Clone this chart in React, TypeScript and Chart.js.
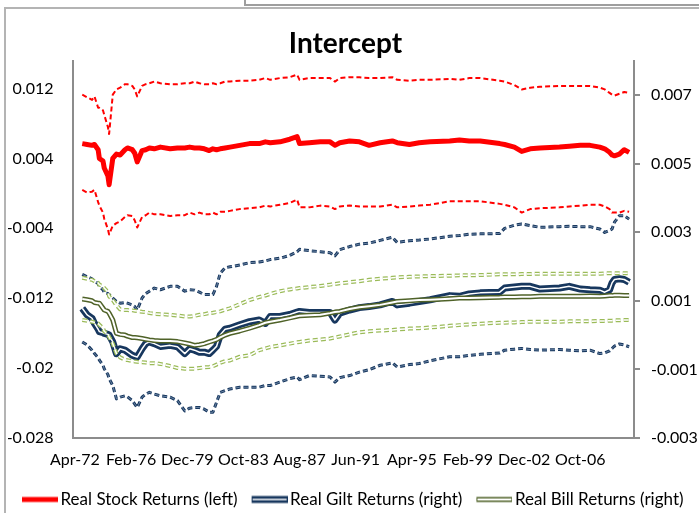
import React, { useEffect, useRef } from "react";
import { Chart, registerables } from "chart.js";

Chart.register(...registerables);

// month offsets from Apr-72
const months = [6,10,14,16,19,20,23,24,27,28,31,34,37,41,43,47,49,51,55,58,61,65,70,78,84,90,94,98,102,106,110,113,116,119,123,127,135,143,151,156,160,168,176,182,184,192,201,209,213,217,225,233,241,250,260,264,274,282,291,307,315,323,332,348,352,360,366,373,381,397,405,414,422,430,434,438,440,442,446,450,454];

const xTickMonths = [0, 46, 92, 138, 184, 230, 276, 322, 368, 414];
const xTickLabels = ["Apr-72", "Feb-76", "Dec-79", "Oct-83", "Aug-87", "Jun-91", "Apr-95", "Feb-99", "Dec-02", "Oct-06"];
const leftTicks = [-0.028, -0.02, -0.012, -0.004, 0.004, 0.012];
const leftTickLabels = ["-0.028", "-0.02", "-0.012", "-0.004", "0.004", "0.012"];
const rightTicks = [-0.003, -0.001, 0.001, 0.003, 0.005, 0.007];
const rightTickLabels = ["-0.003", "-0.001", "0.001", "0.003", "0.005", "0.007"];

const stockMean = [0.0057,0.0056,0.0055,0.0056,0.0050,0.0040,0.0037,0.0029,0.0020,0.0010,
0.0040,0.0045,0.0044,0.0050,0.0052,0.0050,0.0046,0.0036,0.0049,0.0050,
0.0052,0.0051,0.0053,0.0051,0.0052,0.0052,0.0053,0.0052,0.0052,0.0051,
0.0049,0.0051,0.0050,0.0051,0.0052,0.0053,0.0055,0.0057,0.0057,0.0059,
0.0058,0.0059,0.0062,0.0065,0.0057,0.0058,0.0059,0.0059,0.0055,0.0058,
0.0060,0.0059,0.0055,0.0058,0.0060,0.0058,0.0056,0.0058,0.0059,0.0060,
0.0061,0.0060,0.0060,0.0057,0.0056,0.0053,0.0048,0.0051,0.0052,0.0053,
0.0054,0.0055,0.0055,0.0053,0.0051,0.0047,0.0044,0.0043,0.0045,0.0050,
0.0047];
const stockUpper = [0.0113,0.0110,0.0107,0.0111,0.0098,0.0098,0.0095,0.0090,0.0076,0.0068,
0.0113,0.0119,0.0121,0.0125,0.0125,0.0123,0.0119,0.0111,0.0123,0.0125,
0.0126,0.0128,0.0126,0.0125,0.0125,0.0126,0.0126,0.0128,0.0126,0.0125,
0.0125,0.0126,0.0125,0.0126,0.0128,0.0128,0.0129,0.0129,0.0130,0.0132,
0.0130,0.0132,0.0133,0.0136,0.0130,0.0132,0.0132,0.0132,0.0128,0.0132,
0.0133,0.0133,0.0132,0.0132,0.0133,0.0130,0.0129,0.0130,0.0130,0.0131,
0.0130,0.0132,0.0132,0.0129,0.0128,0.0124,0.0119,0.0121,0.0122,0.0123,
0.0123,0.0123,0.0123,0.0121,0.0119,0.0115,0.0113,0.0112,0.0114,0.0116,
0.0115];
const stockLower = [0.0004,0.0001,0.0002,0.0004,-0.0010,-0.0014,-0.0022,-0.0029,-0.0041,-0.0047,
-0.0037,-0.0034,-0.0032,-0.0027,-0.0025,-0.0026,-0.0031,-0.0039,-0.0027,-0.0025,
-0.0022,-0.0024,-0.0024,-0.0026,-0.0025,-0.0025,-0.0022,-0.0024,-0.0022,-0.0024,
-0.0024,-0.0022,-0.0024,-0.0021,-0.0021,-0.0020,-0.0018,-0.0017,-0.0016,-0.0014,
-0.0015,-0.0013,-0.0011,-0.0007,-0.0016,-0.0016,-0.0014,-0.0015,-0.0018,-0.0015,
-0.0014,-0.0015,-0.0015,-0.0015,-0.0013,-0.0016,-0.0015,-0.0014,-0.0013,-0.0009,
-0.0009,-0.0009,-0.0009,-0.0012,-0.0013,-0.0016,-0.0022,-0.0018,-0.0017,-0.0016,
-0.0015,-0.0014,-0.0013,-0.0013,-0.0015,-0.0018,-0.0022,-0.0022,-0.0022,-0.0020,
-0.0021];

const giltMean = [0.00078,0.00059,0.00049,0.00034,0.00017,0.00010,0.00007,0.00005,0.00002,0.00000,
-0.00020,-0.00054,-0.00040,-0.00044,-0.00049,-0.00059,-0.00062,-0.00064,-0.00040,-0.00025,
-0.00020,-0.00025,-0.00033,-0.00030,-0.00034,-0.00054,-0.00040,-0.00044,-0.00050,-0.00050,
-0.00054,-0.00044,-0.00033,0.00000,0.00017,0.00020,0.00030,0.00039,0.00044,0.00034,
0.00054,0.00054,0.00060,0.00067,0.00069,0.00066,0.00066,0.00066,0.00044,0.00064,
0.00073,0.00080,0.00083,0.00088,0.00098,0.00088,0.00093,0.00098,0.00103,0.00115,
0.00113,0.00120,0.00123,0.00125,0.00137,0.00140,0.00142,0.00142,0.00134,0.00137,
0.00142,0.00134,0.00132,0.00131,0.00125,0.00132,0.00152,0.00162,0.00164,0.00162,
0.00154];
const giltUpper = [0.00177,0.00170,0.00164,0.00157,0.00150,0.00142,0.00132,0.00123,0.00121,0.00118,
0.00108,0.00098,0.00093,0.00095,0.00093,0.00088,0.00083,0.00073,0.00108,0.00121,
0.00128,0.00137,0.00132,0.00142,0.00142,0.00128,0.00132,0.00131,0.00125,0.00118,
0.00118,0.00118,0.00142,0.00180,0.00196,0.00199,0.00204,0.00211,0.00213,0.00216,
0.00220,0.00224,0.00232,0.00243,0.00250,0.00246,0.00243,0.00240,0.00231,0.00249,
0.00258,0.00265,0.00268,0.00276,0.00285,0.00270,0.00275,0.00277,0.00280,0.00288,
0.00290,0.00294,0.00295,0.00296,0.00311,0.00320,0.00324,0.00319,0.00314,0.00316,
0.00317,0.00316,0.00316,0.00309,0.00299,0.00305,0.00309,0.00329,0.00348,0.00348,
0.00338];
const giltLower = [-0.00020,-0.00029,-0.00044,-0.00054,-0.00066,-0.00073,-0.00088,-0.00098,-0.00115,-0.00127,
-0.00147,-0.00186,-0.00181,-0.00177,-0.00180,-0.00191,-0.00201,-0.00211,-0.00181,-0.00172,
-0.00167,-0.00172,-0.00177,-0.00181,-0.00191,-0.00221,-0.00213,-0.00211,-0.00211,-0.00216,
-0.00225,-0.00225,-0.00196,-0.00167,-0.00162,-0.00157,-0.00152,-0.00152,-0.00152,-0.00147,
-0.00147,-0.00137,-0.00127,-0.00122,-0.00130,-0.00118,-0.00120,-0.00122,-0.00137,-0.00124,
-0.00118,-0.00108,-0.00101,-0.00088,-0.00081,-0.00093,-0.00086,-0.00083,-0.00075,-0.00063,
-0.00063,-0.00059,-0.00056,-0.00052,-0.00044,-0.00041,-0.00039,-0.00042,-0.00044,-0.00042,
-0.00044,-0.00046,-0.00044,-0.00054,-0.00052,-0.00046,-0.00039,-0.00032,-0.00026,-0.00029,
-0.00034];

const billMean = [0.00105,0.00103,0.00100,0.00095,0.00093,0.00093,0.00078,0.00073,0.00069,0.00064,
0.00044,0.00005,0.00002,0.00000,-0.00003,-0.00007,-0.00007,-0.00008,-0.00010,-0.00012,
-0.00014,-0.00016,-0.00017,-0.00017,-0.00019,-0.00023,-0.00026,-0.00030,-0.00028,-0.00025,
-0.00020,-0.00017,-0.00013,-0.00007,0.00000,0.00005,0.00012,0.00020,0.00029,0.00036,
0.00039,0.00044,0.00050,0.00055,0.00056,0.00058,0.00059,0.00064,0.00067,0.00069,
0.00076,0.00081,0.00084,0.00088,0.00095,0.00098,0.00100,0.00102,0.00103,0.00106,
0.00108,0.00108,0.00109,0.00110,0.00111,0.00111,0.00112,0.00112,0.00113,0.00113,
0.00113,0.00113,0.00114,0.00113,0.00114,0.00115,0.00115,0.00116,0.00116,0.00115,
0.00115];
const billUpper = [0.00167,0.00164,0.00161,0.00157,0.00152,0.00147,0.00142,0.00137,0.00126,0.00113,
0.00102,0.00087,0.00075,0.00073,0.00073,0.00072,0.00071,0.00070,0.00068,0.00067,
0.00064,0.00062,0.00061,0.00059,0.00057,0.00054,0.00054,0.00056,0.00059,0.00061,
0.00064,0.00065,0.00067,0.00069,0.00074,0.00078,0.00090,0.00102,0.00111,0.00115,
0.00120,0.00128,0.00133,0.00136,0.00137,0.00140,0.00143,0.00147,0.00149,0.00151,
0.00154,0.00157,0.00161,0.00164,0.00167,0.00168,0.00170,0.00171,0.00172,0.00173,
0.00174,0.00174,0.00175,0.00177,0.00177,0.00177,0.00178,0.00178,0.00179,0.00179,
0.00179,0.00179,0.00179,0.00179,0.00180,0.00180,0.00180,0.00180,0.00180,0.00180,
0.00180];
const billLower = [0.00044,0.00042,0.00039,0.00037,0.00034,0.00030,0.00020,0.00011,0.00002,-0.00005,
-0.00025,-0.00054,-0.00065,-0.00072,-0.00073,-0.00076,-0.00077,-0.00078,-0.00079,-0.00080,
-0.00082,-0.00082,-0.00084,-0.00090,-0.00096,-0.00098,-0.00098,-0.00098,-0.00096,-0.00094,
-0.00093,-0.00091,-0.00086,-0.00081,-0.00076,-0.00074,-0.00063,-0.00059,-0.00044,-0.00039,
-0.00035,-0.00030,-0.00025,-0.00021,-0.00020,-0.00016,-0.00013,-0.00010,-0.00007,-0.00004,
0.00002,0.00008,0.00011,0.00013,0.00015,0.00016,0.00019,0.00020,0.00022,0.00027,
0.00029,0.00031,0.00033,0.00036,0.00036,0.00037,0.00038,0.00039,0.00039,0.00039,
0.00040,0.00040,0.00040,0.00041,0.00041,0.00042,0.00042,0.00043,0.00043,0.00044,
0.00044];

const seriesNames = ["Real Stock Returns (left)", "Real Gilt Returns (right)", "Real Bill Returns (right)"];

const RED = "#FF0000";
const NAVY = "#17375E";
const OLIVE = "#4F6228";
const LIGHT_OLIVE = "#9BBB59";
const AXIS = "#8C8C8C";

function pts(values: number[]) {
  return months.map((m, i) => ({ x: m, y: values[i] }));
}

function makeSample(outer: string, outerW: number, innerW: number) {
  const c = document.createElement("canvas");
  c.width = 52;
  c.height = 12;
  const g = c.getContext("2d")!;
  g.lineCap = "butt";
  g.strokeStyle = outer;
  g.lineWidth = outerW;
  g.beginPath();
  g.moveTo(16, 6);
  g.lineTo(52, 6);
  g.stroke();
  if (innerW > 0) {
    g.strokeStyle = "#FFFFFF";
    g.lineWidth = innerW;
    g.beginPath();
    g.moveTo(17, 6);
    g.lineTo(51, 6);
    g.stroke();
  }
  return c;
}

const titleShift = {
  id: "titleShift",
  afterLayout(chart: any) {
    const t = chart.titleBlock;
    if (t) {
      t.left = -8;
      t.right = 699;
    }
  },
};

export default function App() {
  const ref = useRef<HTMLCanvasElement | null>(null);

  useEffect(() => {
    document.body.style.margin = "0";
    document.body.style.overflow = "hidden";
    Chart.defaults.font.family = "Lato";
    Chart.defaults.color = "#000";

    const samples = [
      makeSample(RED, 5, 0),
      makeSample(NAVY, 7, 1.5),
      makeSample(OLIVE, 5, 2),
    ];

    const line = (data: number[], axis: string, color: string, width: number, order: number, dash: number[] = []) => ({
      data: pts(data),
      yAxisID: axis,
      borderColor: color,
      backgroundColor: color,
      borderWidth: width,
      borderDash: dash,
      borderCapStyle: "butt",
      borderJoinStyle: "round",
      pointRadius: 0,
      tension: 0,
      fill: false,
      order,
    });

    const dash = [5, 3];
    const chart = new Chart(ref.current!, {
      type: "line",
      data: {
        datasets: [
          line(stockMean, "yL", RED, 5, 10),
          line(stockUpper, "yL", RED, 2, 11, dash),
          line(stockLower, "yL", RED, 2, 11, dash),
          line(giltMean, "yR", NAVY, 7, 6),
          line(giltMean, "yR", "#FFFFFF", 1.5, 5),
          line(giltUpper, "yR", NAVY, 3, 8, dash),
          line(giltUpper, "yR", "#7F97B5", 0.8, 7, dash),
          line(giltLower, "yR", NAVY, 3, 8, dash),
          line(giltLower, "yR", "#7F97B5", 0.8, 7, dash),
          line(billMean, "yR", OLIVE, 5, 1),
          line(billMean, "yR", "#FFFFFF", 2, 0),
          line(billUpper, "yR", LIGHT_OLIVE, 4, 3, dash),
          line(billUpper, "yR", "#FFFFFF", 1.5, 2, dash),
          line(billLower, "yR", LIGHT_OLIVE, 4, 3, dash),
          line(billLower, "yR", "#FFFFFF", 1.5, 2, dash),
        ] as any,
      },
      plugins: [titleShift],
      options: {
        responsive: false,
        animation: false,
        devicePixelRatio: 1,
        layout: { padding: { left: 8, right: 0, top: 0, bottom: -5 } },
        plugins: {
          tooltip: { enabled: false },
          title: {
            display: true,
            text: "Intercept",
            color: "#000",
            font: { family: "Lato", size: 28, weight: "bold", lineHeight: 1.2 },
            padding: { top: 27, bottom: 0 },
          },
          legend: {
            display: true,
            position: "bottom",
            align: "start",
            labels: {
              usePointStyle: true,
              pointStyleWidth: 40,
              padding: 4,
              color: "#000",
              font: { family: "Lato", size: 17 },
              generateLabels: () =>
                seriesNames.map((t, i) => ({
                  text: t,
                  fillStyle: "transparent",
                  strokeStyle: "transparent",
                  lineWidth: 0,
                  hidden: false,
                  pointStyle: samples[i],
                  datasetIndex: i,
                })) as any,
            },
          },
        },
        scales: {
          x: {
            type: "linear",
            min: -2,
            max: 458,
            afterBuildTicks: (s: any) => {
              s.ticks = xTickMonths.map((v) => ({ value: v }));
            },
            afterFit: (s: any) => {
              s.height = 49;
            },
            ticks: {
              autoSkip: false,
              maxRotation: 0,
              padding: 12,
              font: { family: "Lato", size: 16 },
              color: "#000",
              callback: (_v: any, i: number) => xTickLabels[i],
            },
            grid: { drawOnChartArea: false, drawTicks: false },
            border: { display: true, color: AXIS, width: 2 },
          },
          yL: {
            type: "linear",
            position: "left",
            min: -0.028,
            max: 0.0152,
            afterBuildTicks: (s: any) => {
              s.ticks = leftTicks.map((v) => ({ value: v }));
            },
            afterFit: (s: any) => {
              s.width = 64.5;
            },
            ticks: {
              padding: 19,
              font: { family: "Lato", size: 16 },
              color: "#000",
              callback: (_v: any, i: number) => leftTickLabels[i],
            },
            grid: { drawOnChartArea: false, drawTicks: false },
            border: { display: true, color: AXIS, width: 2 },
          },
          yR: {
            type: "linear",
            position: "right",
            min: -0.003,
            max: 0.008,
            afterBuildTicks: (s: any) => {
              s.ticks = rightTicks.map((v) => ({ value: v }));
            },
            afterFit: (s: any) => {
              s.width = 65;
            },
            ticks: {
              padding: 11,
              font: { family: "Lato", size: 16 },
              color: "#000",
              callback: (_v: any, i: number) => rightTickLabels[i],
            },
            grid: { drawOnChartArea: false, drawTicks: true, tickLength: 6, tickColor: AXIS, tickWidth: 2, color: AXIS, lineWidth: 2 },
            border: { display: true, color: AXIS, width: 2 },
          },
        },
      } as any,
    });
    return () => chart.destroy();
  }, []);

  return (
    <div style={{ position: "relative", width: 699, height: 513, overflow: "hidden", background: "#fff" }}>
      <div style={{ position: "absolute", left: 4, top: 7, width: 800, height: 600, borderLeft: "2px solid #B4B4B4", borderTop: "2px solid #B4B4B4" }} />
      <div style={{ position: "absolute", left: 244, top: -20, width: 600, height: 22, border: "2px solid #9E9E9E" }} />
      <canvas ref={ref} width={699} height={513} style={{ position: "absolute", left: 0, top: 0 }} />
    </div>
  );
}
